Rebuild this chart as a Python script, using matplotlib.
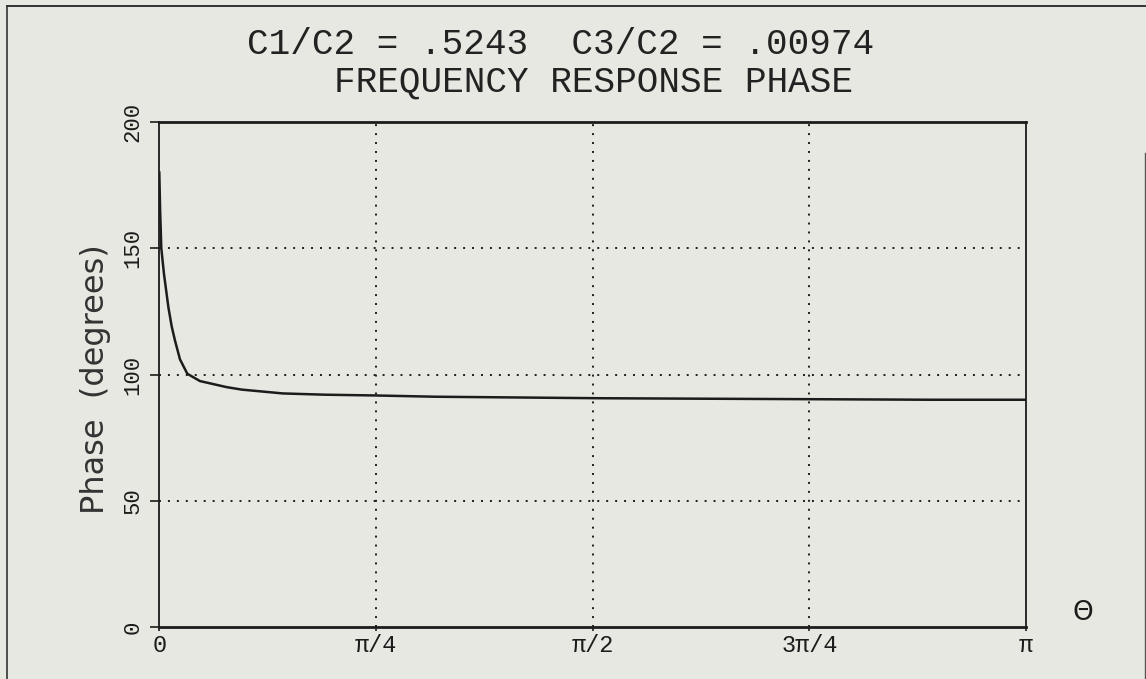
import numpy as np
import matplotlib
matplotlib.use("Agg")
import matplotlib.pyplot as plt
from matplotlib.lines import Line2D

# phase curve (theta in radians, phase in degrees)
theta = [0.0, 0.003, 0.0073, 0.017, 0.033, 0.045, 0.057, 0.075, 0.1015, 0.1475,
         0.244, 0.30, 0.448, 0.60, 0.782, 1.0, 1.2, 1.598, 2.0, 2.4, 2.8, np.pi]
phase = [180.0, 165.0, 150.0, 139.8, 126.6, 119.0, 113.4, 106.0, 100.3, 97.4,
         95.0, 94.0, 92.5, 92.0, 91.7, 91.2, 91.0, 90.6, 90.4, 90.2, 90.0, 90.0]

x_ticks = [0, np.pi / 4, np.pi / 2, 3 * np.pi / 4, np.pi]
x_labels = ['0', 'π/4', 'π/2', '3π/4', 'π']
y_ticks = [0, 50, 100, 150, 200]

title1 = 'C1/C2 = .5243  C3/C2 = .00974'
title2 = 'FREQUENCY RESPONSE PHASE'

bg = '#e8e8e2'
ink = '#1c1c1c'
mono = ['Liberation Mono', 'DejaVu Sans Mono']

fig = plt.figure(figsize=(11.46, 6.79), dpi=100, facecolor=bg)
ax = fig.add_axes([0.139, 0.0766, 0.7563, 0.7437], facecolor=bg)

ax.plot(theta, phase, color=ink, lw=1.8)

ax.set_xlim(0, np.pi)
ax.set_ylim(0, 200)
ax.set_xticks(x_ticks)
ax.set_xticklabels(x_labels, fontsize=17, family=mono, color=ink)
ax.set_yticks(y_ticks)
ax.set_yticklabels([str(v) for v in y_ticks], fontsize=16, family=mono,
                   color=ink, rotation=90, va='center')
ax.tick_params(axis='y', direction='out', length=6.5, width=1.2, pad=5, color=ink)
ax.tick_params(axis='x', direction='out', length=3, width=1.2, pad=2, color=ink)

# dotted grid only at the inner ticks
for xv in x_ticks[1:-1]:
    ax.axvline(xv, color=ink, lw=1.4, ls=(0, (1, 3.6)))
for yv in y_ticks[1:-1]:
    ax.axhline(yv, color=ink, lw=1.4, ls=(0, (1, 3.6)))

for side, sp in ax.spines.items():
    sp.set_color(ink)
    sp.set_linewidth(1.3)
ax.spines['top'].set_linewidth(2.0)
ax.spines['bottom'].set_linewidth(2.0)

ax.set_ylabel('Phase  (degrees)', fontsize=23, color='#333333',
              family=['DejaVu Sans'], labelpad=2)
ax.yaxis.set_label_coords(-0.056, 0.49)

fig.text(0.489, 0.934, title1, fontsize=26, family=mono, color='#222222',
         ha='center', va='center')
fig.text(0.518, 0.879, title2, fontsize=26, family=mono, color='#222222',
         ha='center', va='center')
fig.text(0.945, 0.097, 'Θ', fontsize=19, family=['DejaVu Sans'], color=ink,
         ha='center', va='center')

# scanned page frame
fig.add_artist(Line2D([0.006, 0.006], [0.0, 0.991], transform=fig.transFigure,
                      color='#333333', lw=1.2))
fig.add_artist(Line2D([0.006, 1.0], [0.991, 0.991], transform=fig.transFigure,
                      color='#333333', lw=1.4))
fig.add_artist(Line2D([0.9995, 0.9995], [0.0, 0.775], transform=fig.transFigure,
                      color='#555555', lw=1.0))

fig.savefig('out.png', dpi=100, facecolor=bg)
